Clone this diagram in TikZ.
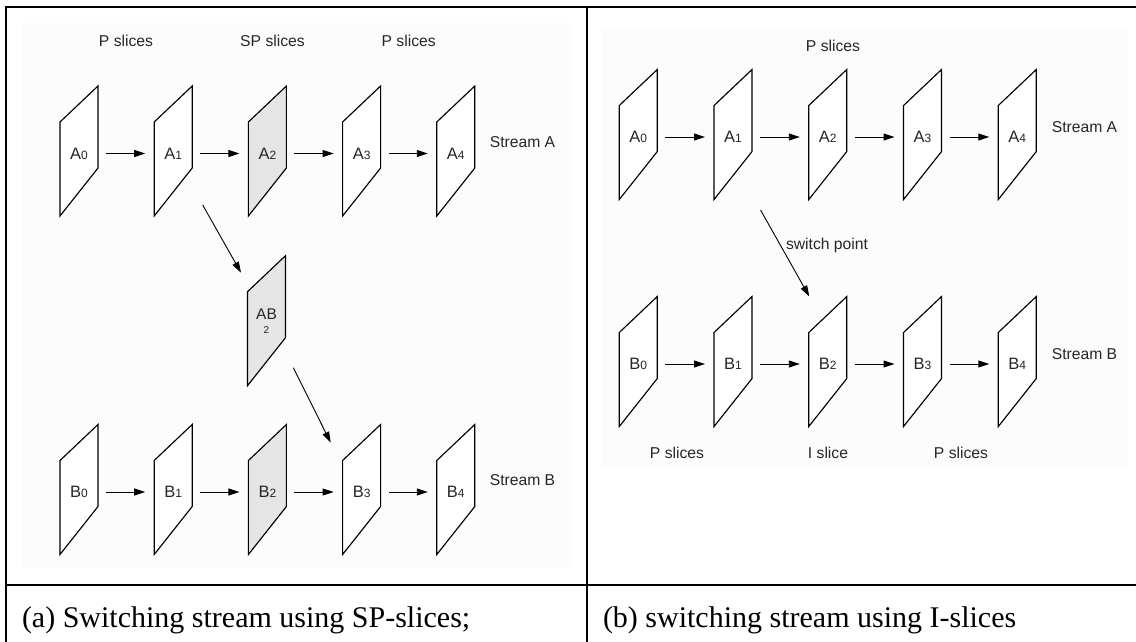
\documentclass[tikz,border=0pt]{standalone}
\usepackage{fontspec}
\setmainfont{Liberation Serif}
\newfontfamily\diagfont{Liberation Sans}
\usetikzlibrary{arrows.meta,calc}

% subscript digit of a slice label: smaller, on the same baseline
\newcommand\slsub[1]{{\fontsize{12}{12}\selectfont #1}}

% one slice plane: quad around (x,y) plus its named label node
% #1 style, #2 name, #3 x, #4 y, #5 label
\newcommand\drawslice[5]{%
  \draw[#1] (#3-19,#4-31.5) -- (#3-19,#4+62.5) -- (#3+19,#4+14.5) -- (#3+19,#4-67.5) -- cycle;
  \node[slicelabel] (#2) at (#3,#4) {#5};
}

\tikzset{
  rule/.style={line width=2pt, draw=black},
  panelbg/.style={fill=black!1.2, draw=none},
  plane/.style={draw=black, line width=1.15pt, line join=miter, fill=white},
  spplane/.style={plane, fill=black!10},
  slicelabel/.style={minimum width=38pt, minimum height=20pt, inner sep=0pt, outer sep=0pt,
    font=\diagfont\fontsize{16.5}{16.5}\selectfont, text=black!85},
  note/.style={anchor=base, inner sep=0pt, outer sep=0pt,
    font=\diagfont\fontsize{15.7}{18}\selectfont, text=black!85},
  arr/.style={line width=0.9pt, draw=black, -{Triangle[length=11pt,width=7pt]}},
  caption/.style={anchor=base west, inner sep=0pt, outer sep=0pt, font=\fontsize{30}{36}\selectfont},
}

\begin{document}
\begin{tikzpicture}[x=1pt,y=-1pt]
\useasboundingbox (0,0) rectangle (1136,642);

% panel backgrounds
\fill[panelbg] (22,23) rectangle (573,567);
\fill[panelbg] (602,28) rectangle (1128,467);

% table rules
\draw[rule] (5,7.5) -- (1136,7.5);
\draw[rule] (6,6.5) -- (6,642);
\draw[rule] (587,7.5) -- (587,642);
\draw[rule] (5,584.5) -- (1136,584.5);

% ---------- left panel: switching with SP slices ----------
\node[note] (lpa) at (126,46.5) {P slices};
\node[note] (lsp) at (272.5,46.5) {SP slices};
\node[note] (lpb) at (408.7,46.5) {P slices};

\drawslice{plane}{a0}{79}{153.5}{A\slsub{0}}
\drawslice{plane}{a1}{173.2}{153.5}{A\slsub{1}}
\drawslice{spplane}{a2}{267.4}{153.5}{A\slsub{2}}
\drawslice{plane}{a3}{361.6}{153.5}{A\slsub{3}}
\drawslice{plane}{a4}{455.8}{153.5}{A\slsub{4}}
\node[note] (lsa) at (522.5,147.6) {Stream A};

% switching slice AB2
\draw[spplane] (266.5-19,323.2-31.5) -- (266.5-19,323.2+62.5) -- (266.5+19,323.2+14.5) -- (266.5+19,323.2-67.5) -- cycle;
\node[slicelabel, font=\diagfont\fontsize{15.5}{15.5}\selectfont] (ab2) at (266.5,313.8) {AB};
\node[slicelabel, minimum height=8pt, font=\diagfont\fontsize{10}{10}\selectfont] (ab2n) at (266.5,329.6) {2};

\drawslice{plane}{b0}{79}{492}{B\slsub{0}}
\drawslice{plane}{b1}{173.2}{492}{B\slsub{1}}
\drawslice{spplane}{b2}{267.4}{492}{B\slsub{2}}
\drawslice{plane}{b3}{361.6}{492}{B\slsub{3}}
\drawslice{plane}{b4}{455.8}{492}{B\slsub{4}}
\node[note] (lsb) at (522.5,485.6) {Stream B};

\foreach \p/\q in {a0/a1,a1/a2,a2/a3,a3/a4,b0/b1,b1/b2,b2/b3,b3/b4}
  \draw[arr] ([xshift=8pt]\p.east) -- ([xshift=-9pt]\q.west);

\draw[arr] ([shift={(29.5,51.5)}]a1.center) -- ([shift={(-25.5,-41.1)}]ab2.center);
\draw[arr] ([shift={(26.8,53.9)}]ab2.center) -- ([shift={(-30.9,-49.3)}]b3.center);

% ---------- right panel: switching with I slices ----------
\node[note] (rpa) at (833,52) {P slices};

\drawslice{plane}{ra0}{638.3}{137}{A\slsub{0}}
\drawslice{plane}{ra1}{733.05}{137}{A\slsub{1}}
\drawslice{plane}{ra2}{827.8}{137}{A\slsub{2}}
\drawslice{plane}{ra3}{922.55}{137}{A\slsub{3}}
\drawslice{plane}{ra4}{1017.3}{137}{A\slsub{4}}
\node[note] (rsa) at (1084.5,132.6) {Stream A};

\drawslice{plane}{rb0}{638.3}{364}{B\slsub{0}}
\drawslice{plane}{rb1}{733.05}{364}{B\slsub{1}}
\drawslice{plane}{rb2}{827.8}{364}{B\slsub{2}}
\drawslice{plane}{rb3}{922.55}{364}{B\slsub{3}}
\drawslice{plane}{rb4}{1017.3}{364}{B\slsub{4}}
\node[note] (rsb) at (1084.5,359) {Stream B};

\foreach \p/\q in {ra0/ra1,ra1/ra2,ra2/ra3,ra3/ra4,rb0/rb1,rb1/rb2,rb2/rb3,rb3/rb4}
  \draw[arr] ([xshift=8pt]\p.east) -- ([xshift=-9pt]\q.west);

\draw[arr] ([shift={(27.5,73)}]ra1.center) -- ([shift={(-18.5,-67.5)}]rb2.center);
\node[note, anchor=base west] (swp) at (786,249) {switch point};

\node[note] (rpb) at (677,458.6) {P slices};
\node[note] (ri) at (828,458.6) {I slice};
\node[note] (rpc) at (961,458.6) {P slices};

% ---------- captions ----------
\node[caption] (capa) at (22,627) {(a) Switching stream using SP-slices;};
\node[caption] (capb) at (603,627) {(b) switching stream using I-slices};
\end{tikzpicture}
\end{document}
